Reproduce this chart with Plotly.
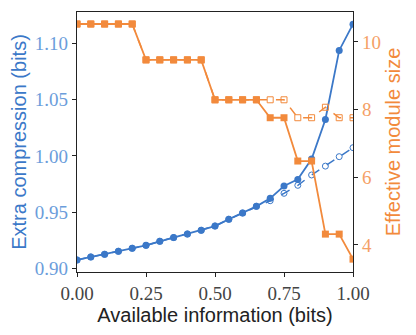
import plotly.graph_objects as go

x_info = [0.00, 0.05, 0.10, 0.15, 0.20, 0.25, 0.30, 0.35, 0.40, 0.45, 0.50,
          0.55, 0.60, 0.65, 0.70, 0.75, 0.80, 0.85, 0.90, 0.95, 1.00]

compression_solid = [0.9074, 0.9101, 0.9124, 0.9151, 0.9178, 0.9204, 0.9240,
                     0.9273, 0.9305, 0.9338, 0.9376, 0.9436, 0.9492, 0.9551,
                     0.9622, 0.9732, 0.9791, 0.9972, 1.0324, 1.0938, 1.1172]
compression_dashed = [0.9074, 0.9101, 0.9124, 0.9151, 0.9178, 0.9204, 0.9240,
                      0.9273, 0.9305, 0.9338, 0.9376, 0.9436, 0.9492, 0.9551,
                      0.9601, 0.9667, 0.9738, 0.9830, 0.9909, 0.9993, 1.0073]

module_solid = [10.53, 10.53, 10.53, 10.53, 10.53, 9.47, 9.47, 9.47, 9.47, 9.47,
                8.29, 8.29, 8.29, 8.29, 7.76, 7.76, 6.48, 6.48, 4.32, 4.32, 3.58]
module_dashed = [10.53, 10.53, 10.53, 10.53, 10.53, 9.47, 9.47, 9.47, 9.47, 9.47,
                 8.29, 8.29, 8.29, 8.29, 8.29, 8.29, 7.76, 7.76, 8.07, 7.76, 7.76]

x_ticks = [0.0, 0.25, 0.5, 0.75, 1.0]
x_ticklabels = ["0.00", "0.25", "0.50", "0.75", "1.00"]
y1_ticks = [0.90, 0.95, 1.00, 1.05, 1.10]
y1_ticklabels = ["0.90", "0.95", "1.00", "1.05", "1.10"]
y2_ticks = [4, 6, 8, 10]

BLUE = "#3b78c8"
BLUE_LIGHT = "#6b9ddb"
ORANGE = "#f28a3c"
ORANGE_LIGHT = "#f5a066"

fig = go.Figure()

fig.add_trace(go.Scatter(x=x_info, y=module_dashed, yaxis="y2", mode="lines+markers",
                         line=dict(color=ORANGE, width=1.5, dash="dash"),
                         marker=dict(symbol="square-open", size=6, color=ORANGE, line=dict(width=1)),
                         showlegend=False))
fig.add_trace(go.Scatter(x=x_info, y=module_solid, yaxis="y2", mode="lines+markers",
                         line=dict(color=ORANGE, width=1.8),
                         marker=dict(symbol="square", size=7, color=ORANGE),
                         showlegend=False))
fig.add_trace(go.Scatter(x=x_info, y=compression_dashed, yaxis="y", mode="lines+markers",
                         line=dict(color=BLUE, width=1.5, dash="dash"),
                         marker=dict(symbol="circle-open", size=6, color=BLUE, line=dict(width=1)),
                         showlegend=False))
fig.add_trace(go.Scatter(x=x_info, y=compression_solid, yaxis="y", mode="lines+markers",
                         line=dict(color=BLUE, width=1.8),
                         marker=dict(symbol="circle", size=7, color=BLUE),
                         showlegend=False))

fig.update_layout(
    width=408, height=327,
    margin=dict(l=69, r=63, t=4, b=63),
    paper_bgcolor="white", plot_bgcolor="white",
    xaxis=dict(range=[0, 1], tickvals=x_ticks, ticktext=x_ticklabels, automargin=False,
               showgrid=False, zeroline=False,
               showline=True, linecolor="#222", linewidth=1.2, mirror=True,
               ticks="outside", ticklen=4, tickcolor="#222",
               tickfont=dict(family="Liberation Serif", size=19, color="#444"),
               title=dict(text="Available information (bits)", standoff=1,
                          font=dict(family="Liberation Sans", size=20, color="#222"))),
    yaxis=dict(range=[0.8967, 1.128], tickvals=y1_ticks, ticktext=y1_ticklabels, automargin=False,
               showgrid=False, zeroline=False,
               showline=True, linecolor="#222", linewidth=1.2,
               ticks="outside", ticklen=4, tickcolor="#222",
               tickfont=dict(family="Liberation Serif", size=19, color=BLUE_LIGHT),
               title=dict(text="Extra compression (bits)", standoff=2,
                          font=dict(family="Liberation Sans", size=20, color=BLUE))),
    yaxis2=dict(range=[3.20, 10.885], tickvals=y2_ticks, overlaying="y", side="right",
                automargin=False,
                showgrid=False, zeroline=False,
                showline=True, linecolor="#222", linewidth=1.2,
                ticks="outside", ticklen=4, tickcolor="#222",
                tickfont=dict(family="Liberation Serif", size=19, color=ORANGE_LIGHT),
                title=dict(text="Effective module size", standoff=6,
                           font=dict(family="Liberation Sans", size=20, color=ORANGE))),
)

fig.write_html("out.html")
